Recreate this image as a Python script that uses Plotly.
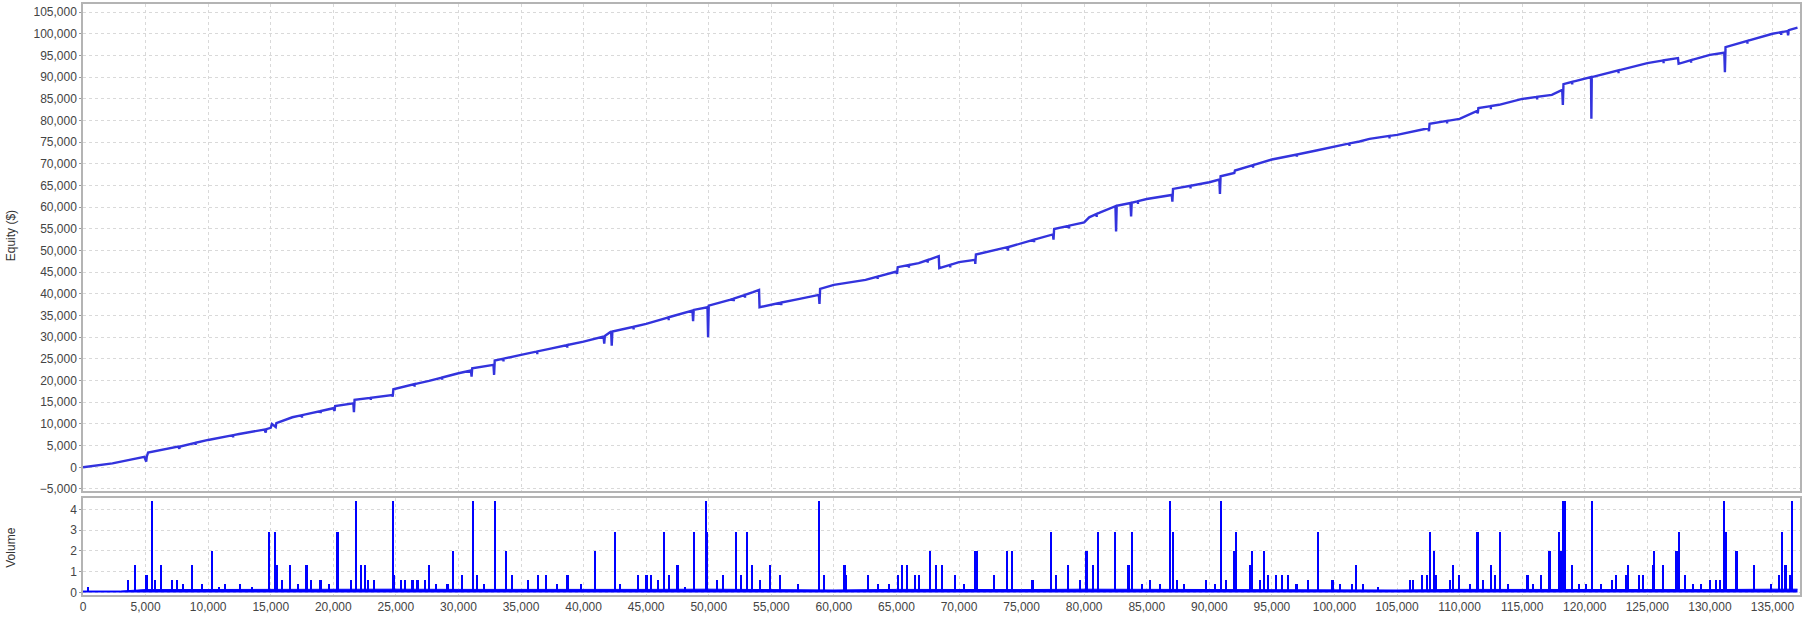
import plotly.graph_objects as go

# ---------------- data ----------------
equity_trade = [0, 2350, 4900, 5050, 5100, 5200, 7600, 7700, 7750, 10000, 12480, 14500, 14600, 14650,
                15000, 15100, 15400, 15450, 16730, 20000, 20100, 20150, 21600, 21650, 21700, 24700,
                24750, 24800, 27650, 30000, 31000, 31050, 31100, 32800, 32850, 32900, 35000, 37270,
                40000, 41600, 41650, 41700, 42200, 42250, 42300, 45000, 46340, 48700, 48750, 48800,
                49900, 49950, 50000, 51680, 53540, 54020, 54060, 55000, 57260, 58800, 58850, 58900,
                60000, 62530, 65000, 65050, 65100, 66780, 68380, 68420, 70000, 71280, 71300, 71350,
                73860, 73900, 73950, 75000, 77500, 77550, 77600, 80000, 80400, 81290, 82500, 82550,
                82600, 83700, 83750, 83800, 85000, 87000, 87050, 87100, 90000, 90800, 90850, 90900,
                92000, 92050, 95000, 98550, 100000, 102000, 102800, 105000, 107500, 107550, 107600,
                110000, 111400, 111450, 111500, 113150, 115000, 117370, 118200, 118250, 118300,
                120500, 120530, 120560, 125000, 127450, 127500, 130000, 131150, 131200, 131250,
                135000, 136200, 136250, 136300, 137000]
equity_value = [0, 920, 2400, 1300, 2500, 3380, 4770, 4300, 4800, 6310, 7690, 8700, 8000, 8800,
                9100, 10000, 9300, 10200, 11540, 13620, 13000, 14150, 14770, 12690, 15540, 16690,
                16310, 18000, 19920, 21690, 22310, 20920, 22850, 23620, 21310, 24620, 25920, 27310,
                29000, 30150, 28500, 30300, 31310, 28070, 31310, 33080, 34230, 36150, 33690, 36300,
                36920, 30000, 37300, 38620, 40380, 40920, 36920, 37540, 38850, 39770, 37690, 41150,
                42080, 43230, 45150, 44620, 46150, 47080, 48690, 45920, 47310, 47850, 46920, 49080,
                50770, 50000, 50800, 51690, 53700, 52500, 54950, 56500, 57650, 58810, 60200, 54360,
                60300, 60960, 57880, 61000, 61880, 62810, 61280, 64200, 65740, 66360, 63040, 67120,
                67900, 68440, 70980, 73060, 74050, 75140, 75740, 76670, 78200, 77500, 79200,
                80360, 82200, 81600, 82830, 83600, 84950, 85900, 87050, 83590, 88370,
                89990, 80360, 89990, 93220, 94380, 93060, 95100, 95600, 91140, 96920,
                99990, 100600, 99600, 100800, 101400]

# small short-lived dips on the equity curve: trade number, level, low point
dip_trade = [9000, 12000, 17500, 19000, 23000, 26500, 28700, 33600, 36300, 38700, 44000, 46800,
             52000, 52900, 55800, 63500, 66000, 67500, 69300, 76000, 78800, 81000, 84300, 88500,
             93500, 97000, 101200, 104400, 109000, 112500, 116200, 119000, 122700, 126300,
             128500, 133000, 135700]
dip_level = [5650, 7420, 12030, 12980, 16040, 19180, 20710, 25050, 26720, 28200, 32420, 34600,
             38920, 39770, 38000, 43980, 46650, 47800, 46690, 52490, 55720, 58430, 61370, 64940,
             69690, 72150, 74700, 76420, 79880, 83300, 85430, 88890, 91550, 93840,
             93920, 98350, 100350]
dip_low = [5150, 6900, 11400, 12450, 15500, 18600, 20200, 24400, 26100, 27600, 31800, 33900,
           38300, 39100, 37400, 43400, 46000, 47200, 46100, 51900, 55100, 57700, 60700, 64300,
           69100, 71600, 74100, 75800, 79300, 82600, 84800, 88300, 90900, 93200,
           93300, 97700, 99700]

volume_trade = [450, 3640, 4180, 5090, 5550, 5800, 6240, 7120, 7500, 8000, 8760, 9550, 10330, 10900,
                11350, 12580, 13500, 14850, 15390, 15500, 15950, 16580, 17200, 17880, 18250, 19000,
                19650, 20360, 21450, 21850, 22210, 22550, 22800, 23250, 24820, 24900, 25450, 25750,
                26350, 26750, 27350, 27700, 28250, 29150, 29580, 30300, 31150, 31500, 32050, 32910,
                33790, 34330, 35600, 36360, 37030, 37880, 38730, 39800, 40900, 42500, 42950,
                44380, 45050, 45420, 45970, 46420, 46850, 47520, 48150, 48850, 49800, 49900,
                50650, 51140, 52170, 52600, 53050, 53510, 54090, 54950, 55720, 57160, 58850,
                59230, 60870, 60990, 62750, 63520, 64430, 65130, 65460, 65830, 66520, 66830,
                67680, 68200, 68650, 69690, 70400, 71300, 71450, 72820, 73880, 74280, 75890,
                77380, 77780, 78750, 79720, 80210, 80760, 81120, 82500, 83560, 83830, 84620,
                85290, 86080, 86870, 87140, 87420, 88000, 89750, 90500, 90950, 91350, 92000,
                92150, 93290, 93420, 94060, 94400, 94730, 95380, 95820, 96310, 96990, 97930,
                98680, 99860, 100480, 101400, 101720, 102270, 103500, 106060, 106280, 107020,
                107390, 107660, 108000, 108120, 109270, 109480, 109970, 110860, 111450, 111910,
                112550, 112860, 113230, 113910, 115450, 115850, 116520, 117200, 117940, 118120,
                118310, 118440, 118980, 119590, 120140, 120590, 121300, 122220, 122520, 123290,
                123480, 124370, 124680, 125450, 125540, 126250, 127350, 127540, 128000, 128680,
                129290, 130050, 130520, 130830, 131140, 131320, 132150, 133510, 134920, 135540,
                135780, 136060, 136400, 136580]
volume_value = [0.27, 0.6, 1.33, 0.86, 4.4, 0.6, 1.33, 0.6, 0.6, 0.4, 1.33, 0.4, 2.0, 0.27,
                0.4, 0.4, 0.27, 2.9, 2.9, 1.33, 0.6, 1.33, 0.4, 1.33, 0.6, 0.6,
                0.4, 2.9, 0.6, 4.4, 1.33, 1.33, 0.6, 0.6, 4.4, 0.86, 0.6, 0.6,
                0.6, 0.6, 0.6, 1.33, 0.4, 0.4, 2.0, 0.86, 4.4, 0.86, 0.4, 4.4,
                2.0, 0.86, 0.6, 0.86, 0.86, 0.4, 0.86, 0.4, 2.0, 2.9, 0.4,
                0.86, 0.86, 0.86, 0.6, 2.9, 0.86, 1.33, 0.27, 2.9, 4.4, 2.9,
                0.6, 0.86, 2.9, 0.86, 2.9, 1.33, 0.6, 1.33, 0.86, 0.4, 4.4,
                0.86, 1.33, 0.86, 0.86, 0.4, 0.4, 0.86, 1.33, 1.33, 0.86, 0.86,
                2.0, 1.33, 1.33, 0.86, 0.4, 2.0, 2.0, 0.86, 2.0, 2.0, 0.6,
                2.9, 0.86, 1.33, 0.6, 2.0, 1.33, 2.9, 2.9, 1.33, 2.9, 0.4,
                0.6, 0.4, 4.4, 2.9, 0.6, 0.4, 0.6, 0.4, 4.4, 0.6, 2.0,
                2.9, 1.33, 2.0, 0.6, 2.0, 0.86, 0.86, 0.86, 0.86, 0.4, 0.6,
                2.9, 0.6, 0.4, 0.4, 1.33, 0.4, 0.27, 0.6, 0.6, 0.86,
                0.86, 2.9, 2.0, 0.86, 0.6, 1.33, 0.86, 0.4, 2.9, 0.6,
                1.33, 0.86, 2.9, 0.4, 0.86, 0.4, 0.86, 2.0, 2.9, 2.0,
                4.4, 4.4, 1.33, 0.4, 0.4, 4.4, 0.4, 0.6, 0.86, 0.86,
                1.33, 0.86, 0.86, 1.33, 2.0, 1.33, 2.0, 2.9, 0.86, 0.4,
                0.4, 0.6, 0.6, 0.6, 4.4, 2.9, 2.0, 1.33, 0.4, 0.86,
                2.9, 1.33, 0.86, 4.4]

floor_trade = [0, 3000, 5000, 10000, 15000, 20000, 25000, 30000, 35000, 40000, 45000, 50000,
               55000, 60000, 65000, 70000, 75000, 80000, 85000, 90000, 95000, 100000, 105000,
               110000, 115000, 120000, 125000, 130000, 135000, 137000]
floor_value = [0.07, 0.07, 0.14, 0.15, 0.14, 0.15, 0.16, 0.15, 0.14, 0.14, 0.15, 0.16,
               0.13, 0.12, 0.15, 0.14, 0.14, 0.16, 0.15, 0.16, 0.15, 0.13, 0.12,
               0.15, 0.14, 0.16, 0.15, 0.14, 0.16, 0.16]

equity_ticks = list(range(-5000, 105001, 5000))
volume_ticks = [0, 1, 2, 3, 4]
trade_ticks = list(range(0, 135001, 5000))

# merge the small dips (vertical drops) into the equity line, ordered by trade number
line_pts = list(zip(equity_trade, equity_value))
for t, lv, lo in zip(dip_trade, dip_level, dip_low):
    line_pts += [(t, lv), (t, lo), (t, lv)]
line_pts.sort(key=lambda p: p[0])
line_x = [p[0] for p in line_pts]
line_y = [p[1] for p in line_pts]

# ---------------- figure ----------------
FONT = "Liberation Sans"
GRID = "#d9d9d9"
BORDER = "#b4b4b4"
TICKC = "#444444"

fig = go.Figure()
fig.add_trace(go.Scatter(x=line_x, y=line_y, mode="lines",
                         line=dict(color="#3333dd", width=2.4),
                         xaxis="x2", yaxis="y2", showlegend=False, hoverinfo="skip"))
fig.add_trace(go.Scatter(x=floor_trade, y=floor_value, mode="lines", fill="tozeroy",
                         line=dict(color="#0000ff", width=1), fillcolor="#0000ff",
                         xaxis="x", yaxis="y", showlegend=False, hoverinfo="skip"))
fig.add_trace(go.Bar(x=volume_trade, y=volume_value, width=130,
                     marker=dict(color="#0000ff", line=dict(width=0)),
                     xaxis="x", yaxis="y", showlegend=False, hoverinfo="skip"))

axis_common = dict(showgrid=True, gridcolor=GRID, griddash="dot", gridwidth=1,
                   showline=True, linecolor=BORDER, linewidth=1.5, mirror=True,
                   zeroline=False, automargin=False,
                   tickfont=dict(family=FONT, size=12, color=TICKC))

X_RANGE = [0, 137200]
fig.update_layout(
    width=1807, height=617,
    margin=dict(l=83, r=7, t=4, b=22),
    paper_bgcolor="white", plot_bgcolor="white",
    bargap=0,
    xaxis=dict(domain=[0, 1], range=X_RANGE, tickmode="array", tickvals=trade_ticks,
               tickformat=",", anchor="y", ticks="", **axis_common),
    yaxis=dict(domain=[0, 0.1641], range=[-0.12, 4.55], tickmode="array", tickvals=volume_ticks,
               anchor="x", ticks="outside", ticklen=2, tickcolor="#999999", **axis_common),
    xaxis2=dict(domain=[0, 1], range=X_RANGE, tickmode="array", tickvals=trade_ticks,
                showticklabels=False, anchor="y2", ticks="", **axis_common),
    yaxis2=dict(domain=[0.176, 1], range=[-5460, 106845], tickmode="array", tickvals=equity_ticks,
                tickformat=",", anchor="x2", ticks="outside", ticklen=2, tickcolor="#999999",
                **axis_common),
    annotations=[
        dict(text="Equity ($)", xref="paper", yref="paper", x=0, y=0.607, xshift=-72,
             textangle=-90, showarrow=False, xanchor="center", yanchor="middle",
             font=dict(family=FONT, size=12, color="#333333")),
        dict(text="Volume", xref="paper", yref="paper", x=0, y=0.08, xshift=-72,
             textangle=-90, showarrow=False, xanchor="center", yanchor="middle",
             font=dict(family=FONT, size=12, color="#333333")),
    ],
)

fig.write_html("out.html", config={"displayModeBar": False},
               post_script="document.body.style.margin='0';document.body.style.overflow='hidden';")
